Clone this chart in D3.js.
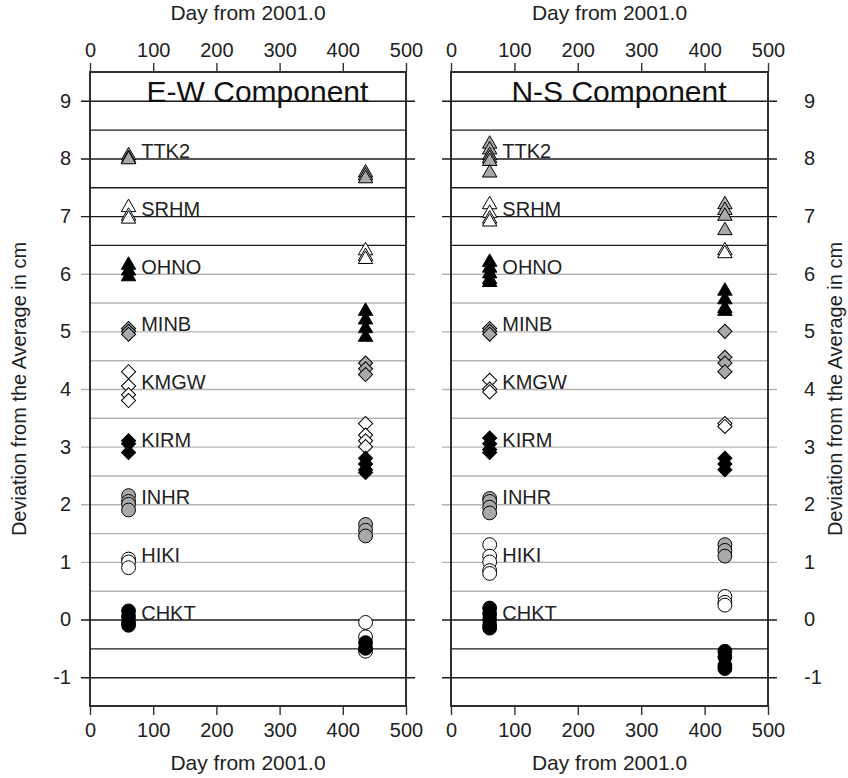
<!DOCTYPE html>
<html>
<head>
<meta charset="utf-8">
<script src="https://cdn.jsdelivr.net/npm/d3@7"></script>
<style>
    body { margin: 0; background: #fff; }
    svg { font-family: "Liberation Sans", Arial, sans-serif; }
</style>
</head>
<body>
<div id="chart"></div>
<script>
    // stations, top to bottom, with the offset each one is plotted around
    const stations = ['TTK2', 'SRHM', 'OHNO', 'MINB', 'KMGW', 'KIRM', 'INHR', 'HIKI', 'CHKT'];
    const offsets = [8, 7, 6, 5, 4, 3, 2, 1, 0];
    const shapes = ['triangle', 'triangle', 'triangle', 'diamond', 'diamond', 'diamond', 'circle', 'circle', 'circle'];
    const fills = ['gray', 'white', 'black', 'gray', 'white', 'black', 'gray', 'white', 'black'];

    // E-W component (cm, offset included)
    const ewDays = [61, 436];
    const ewEarly = [
        [8.05, 8.0, 7.98],
        [7.15, 7.0, 6.95],
        [6.15, 6.05, 5.95],
        [5.05, 5.0, 4.95],
        [4.3, 4.05, 3.9, 3.8],
        [3.1, 3.05, 2.9],
        [2.15, 2.05, 2.0, 1.9],
        [1.05, 1.0, 0.9],
        [0.15, 0.05, -0.05, -0.1]
    ];
    const ewLate = [
        [7.75, 7.7, 7.65],
        [6.4, 6.3, 6.25],
        [5.35, 5.2, 5.05, 4.9],
        [4.45, 4.35, 4.25],
        [3.4, 3.2, 3.1, 3.0],
        [2.8, 2.7, 2.6, 2.55],
        [1.65, 1.55, 1.45],
        [-0.05, -0.3, -0.55],
        [-0.4, -0.5]
    ];

    // N-S component
    const nsDays = [61, 432];
    const nsEarly = [
        [8.25, 8.15, 8.05, 8.0, 7.95, 7.75],
        [7.2, 7.05, 6.95, 6.9],
        [6.2, 6.1, 6.0, 5.9, 5.85],
        [5.05, 5.0, 4.95],
        [4.15, 4.0, 3.95],
        [3.15, 3.05, 2.95, 2.9],
        [2.1, 2.05, 1.95, 1.85],
        [1.3, 1.1, 1.0, 0.85, 0.8],
        [0.2, 0.1, 0.0, -0.1, -0.15]
    ];
    const nsLate = [
        [7.2, 7.1, 7.0, 6.75],
        [6.4, 6.35],
        [5.7, 5.55, 5.4, 5.35],
        [5.0, 4.55, 4.45, 4.3],
        [3.4, 3.35],
        [2.8, 2.7, 2.6],
        [1.3, 1.2, 1.1],
        [0.4, 0.3, 0.25],
        [-0.55, -0.65, -0.8, -0.85]
    ];

    const xTicks = [0, 100, 200, 300, 400, 500];
    const yTicks = [-1, 0, 1, 2, 3, 4, 5, 6, 7, 8, 9];
    const halfTicks = [-0.5, 0.5, 1.5, 2.5, 3.5, 4.5, 5.5, 6.5, 7.5, 8.5];
    const darkLevels = [-1, -0.5, 0, 6.5, 7, 7.5, 8, 8.5, 9];

    const fillColors = { gray: '#a9a9a9', white: '#ffffff', black: '#000000' };
    const symbolTypes = { triangle: d3.symbolTriangle, diamond: d3.symbolSquare, circle: d3.symbolCircle };
    const symbolSizes = { triangle: 90, diamond: 100, circle: 150 };

    const width = 848, height = 778;
    const plotTop = 72, plotBottom = 706;
    const labelDay = 81;
    const tickOut = 9;

    const svg = d3.select('#chart')
        .append('svg')
        .attr('width', width)
        .attr('height', height);

    const y = d3.scaleLinear()
        .domain([-1.5, 9.5])
        .range([plotBottom, plotTop]);

    function drawPanel(p) {
        const x = d3.scaleLinear()
            .domain([0, 500])
            .range([p.left, p.right]);
        const w = p.right - p.left;
        const g = svg.append('g');

        const lineColor = d => darkLevels.includes(d) ? '#1a1a1a' : '#b4b4b4';

        //minor grid lines, inside only
        g.append('g')
            .attr('transform', `translate(${p.left},0)`)
            .call(d3.axisLeft(y).tickValues(halfTicks).tickSize(-w).tickFormat(''))
            .call(a => a.select('.domain').remove())
            .selectAll('line')
            .attr('stroke', lineColor)
            .attr('stroke-width', 1.4);

        //major grid lines, poking out of the frame
        g.append('g')
            .attr('transform', `translate(${p.left - tickOut},0)`)
            .call(d3.axisLeft(y).tickValues(yTicks).tickSize(-(w + 2 * tickOut)).tickFormat(''))
            .call(a => a.select('.domain').remove())
            .selectAll('line')
            .attr('stroke', lineColor)
            .attr('stroke-width', 1.4);

        //frame
        g.append('rect')
            .attr('x', p.left)
            .attr('y', plotTop)
            .attr('width', w)
            .attr('height', plotBottom - plotTop)
            .attr('fill', 'none')
            .attr('stroke', '#1a1a1a')
            .attr('stroke-width', 1.8);

        //y labels
        const yAxis = (p.side === 'left' ? d3.axisLeft(y) : d3.axisRight(y))
            .tickValues(yTicks)
            .tickFormat(d => String(d))
            .tickSize(0)
            .tickPadding(p.side === 'left' ? 19 : 36);
        g.append('g')
            .attr('transform', `translate(${p.side === 'left' ? p.left : p.right},0)`)
            .call(yAxis)
            .call(a => a.select('.domain').remove())
            .selectAll('text')
            .attr('font-size', 20)
            .attr('fill', '#222');

        //x axes
        const styleX = a => {
            a.select('.domain').remove();
            a.selectAll('line').attr('stroke', '#333').attr('stroke-width', 1.4);
            a.selectAll('text').attr('font-size', 20).attr('fill', '#222');
        };
        g.append('g')
            .attr('transform', `translate(0,${plotTop})`)
            .call(d3.axisTop(x).tickValues(xTicks).tickSize(tickOut).tickPadding(6))
            .call(styleX);
        g.append('g')
            .attr('transform', `translate(0,${plotBottom})`)
            .call(d3.axisBottom(x).tickValues(xTicks).tickSize(tickOut).tickPadding(8))
            .call(styleX);

        g.append('text')
            .attr('x', x(250))
            .attr('y', 20)
            .attr('text-anchor', 'middle')
            .attr('font-size', 21)
            .attr('fill', '#222')
            .text('Day from 2001.0');
        g.append('text')
            .attr('x', x(250))
            .attr('y', 770)
            .attr('text-anchor', 'middle')
            .attr('font-size', 21)
            .attr('fill', '#222')
            .text('Day from 2001.0');

        //points
        const points = [];
        stations.forEach((s, i) => {
            p.early[i].forEach(v => points.push({ day: p.days[0], v, i }));
            p.late[i].forEach(v => points.push({ day: p.days[1], v, i }));
        });
        g.append('g')
            .selectAll('path')
            .data(points)
            .join('path')
            .attr('d', d => d3.symbol().type(symbolTypes[shapes[d.i]]).size(symbolSizes[shapes[d.i]])())
            .attr('transform', d => `translate(${x(d.day)},${y(d.v)})` + (shapes[d.i] === 'diamond' ? ' rotate(45)' : ''))
            .attr('fill', d => fillColors[fills[d.i]])
            .attr('stroke', '#000')
            .attr('stroke-width', 1);

        //station labels
        g.append('g')
            .selectAll('text')
            .data(stations)
            .join('text')
            .attr('x', x(labelDay))
            .attr('y', (d, i) => y(offsets[i]))
            .attr('font-size', 20)
            .attr('fill', '#222')
            .text(d => d);

        //panel title
        g.append('text')
            .attr('x', x(265))
            .attr('y', y(9) + 1)
            .attr('text-anchor', 'middle')
            .attr('font-size', 30)
            .attr('fill', '#111')
            .text(p.title);

        //y title
        const ty = (plotTop + plotBottom) / 2;
        g.append('text')
            .attr('transform', `translate(${p.side === 'left' ? 26 : 842},${ty}) rotate(-90)`)
            .attr('text-anchor', 'middle')
            .attr('font-size', 20)
            .attr('fill', '#222')
            .text('Deviation from the Average in cm');
    }

    drawPanel({ title: 'E-W Component', left: 90, right: 406, side: 'left', days: ewDays, early: ewEarly, late: ewLate });
    drawPanel({ title: 'N-S Component', left: 451, right: 768, side: 'right', days: nsDays, early: nsEarly, late: nsLate });
</script>
</body>
</html>
